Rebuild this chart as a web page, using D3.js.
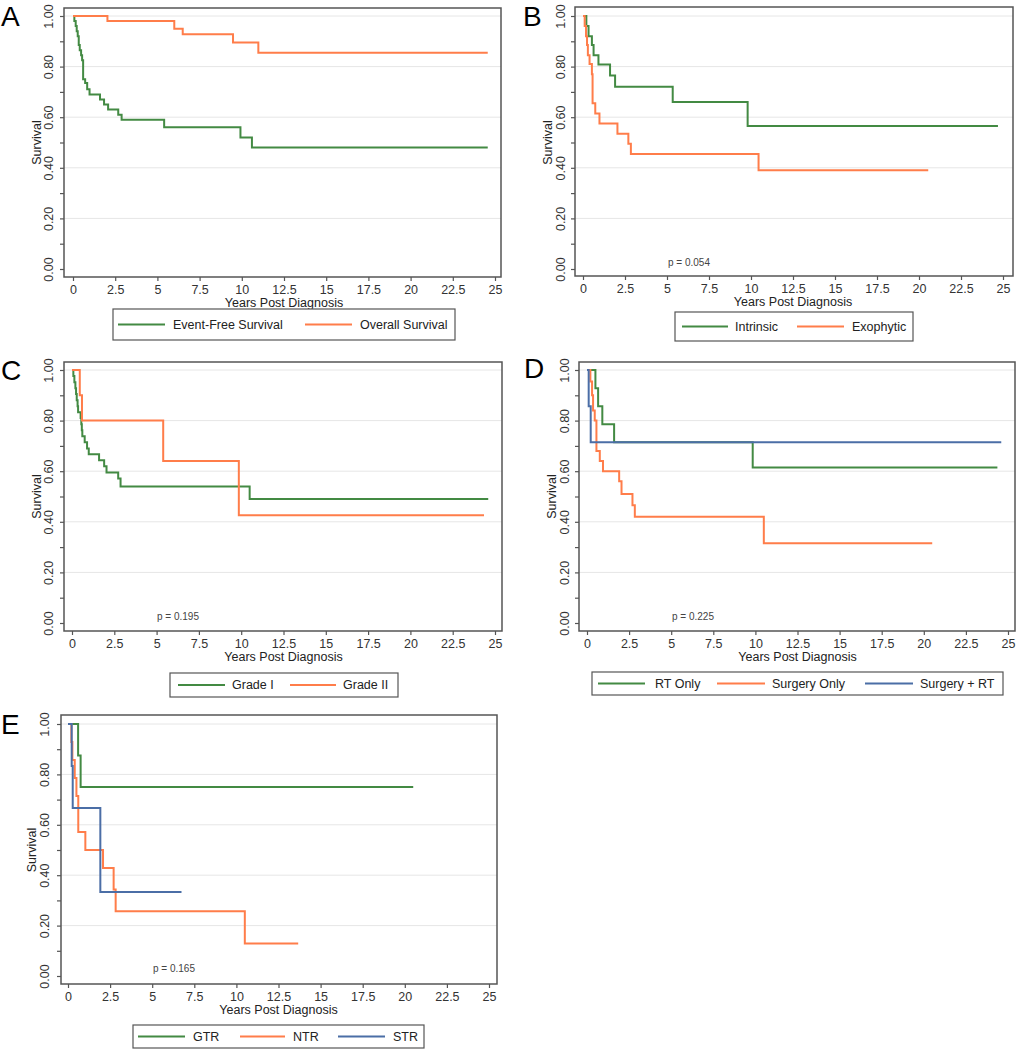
<!DOCTYPE html>
<html>
<head>
<meta charset="utf-8">
<script src="https://cdn.jsdelivr.net/npm/d3@7"></script>
<style>
  body { margin: 0; background: #fff; }
  svg { display: block; font-family: "Liberation Sans", Arial, sans-serif; }
</style>
</head>
<body>
<svg id="chart" width="1017" height="1050"></svg>
<script>
// tick values shared by every panel
var xTickValues = [0, 2.5, 5, 7.5, 10, 12.5, 15, 17.5, 20, 22.5, 25];
var yMajorTicks = [0, 0.2, 0.4, 0.6, 0.8, 1.0];
var yMinorTicks = [0.1, 0.3, 0.5, 0.7, 0.9];

// A: event-free vs overall survival
var aEfsTime = [0, 0.08, 0.16, 0.22, 0.28, 0.34, 0.40, 0.48, 0.54, 0.60, 0.72, 0.84, 0.98, 1.60, 1.84, 2.08, 2.68, 2.88, 5.40, 9.92, 10.60, 24.57];
var aEfsSurv = [1, 0.98, 0.96, 0.94, 0.92, 0.885, 0.865, 0.845, 0.825, 0.75, 0.735, 0.71, 0.69, 0.67, 0.65, 0.63, 0.61, 0.59, 0.56, 0.52, 0.48, 0.48];
var aOsTime = [0, 2.04, 6.0, 6.5, 9.48, 10.98, 24.57];
var aOsSurv = [1, 0.98, 0.95, 0.928, 0.895, 0.855, 0.855];

// B: intrinsic vs exophytic
var bIntTime = [0, 0.2, 0.33, 0.53, 0.63, 0.92, 1.61, 1.91, 5.34, 9.80, 24.7];
var bIntSurv = [1, 0.96, 0.92, 0.885, 0.845, 0.808, 0.765, 0.72, 0.66, 0.565, 0.565];
var bExoTime = [0, 0.10, 0.18, 0.24, 0.29, 0.39, 0.53, 0.57, 0.73, 0.98, 2.05, 2.7, 2.85, 10.45, 20.55];
var bExoSurv = [1, 0.96, 0.92, 0.885, 0.845, 0.81, 0.77, 0.655, 0.615, 0.575, 0.535, 0.495, 0.455, 0.39, 0.39];

// C: grade I vs grade II
var cG1Time = [0, 0.08, 0.14, 0.2, 0.24, 0.28, 0.33, 0.36, 0.51, 0.55, 0.58, 0.61, 0.75, 0.89, 0.99, 1.6, 1.9, 2.04, 2.73, 2.87, 10.5, 24.6];
var cG1Surv = [1, 0.976, 0.952, 0.928, 0.905, 0.88, 0.857, 0.833, 0.81, 0.786, 0.762, 0.738, 0.714, 0.69, 0.667, 0.643, 0.62, 0.595, 0.571, 0.54, 0.49, 0.49];
var cG2Time = [0, 0.46, 0.59, 5.39, 9.86, 24.35];
var cG2Surv = [1, 0.9, 0.8, 0.64, 0.426, 0.426];

// D: treatment
var dRtTime = [0, 0.5, 0.66, 0.91, 1.61, 9.84, 24.37];
var dRtSurv = [1, 0.928, 0.857, 0.786, 0.714, 0.615, 0.615];
var dSurgTime = [0, 0.2, 0.3, 0.36, 0.46, 0.56, 0.76, 0.95, 1.91, 2.05, 2.7, 2.84, 10.5, 20.5];
var dSurgSurv = [1, 0.955, 0.9, 0.84, 0.8, 0.68, 0.64, 0.6, 0.56, 0.51, 0.465, 0.42, 0.315, 0.315];
var dSurgRtTime = [0, 0.1, 0.22, 24.6];
var dSurgRtSurv = [1, 0.857, 0.714, 0.714];

// E: extent of resection
var eGtrTime = [0, 0.6, 0.75, 20.5];
var eGtrSurv = [1, 0.875, 0.75, 0.75];
var eNtrTime = [0, 0.2, 0.26, 0.4, 0.5, 0.61, 1.03, 2.08, 2.71, 2.83, 10.5, 13.67];
var eNtrSurv = [1, 0.929, 0.857, 0.786, 0.714, 0.571, 0.5, 0.429, 0.343, 0.257, 0.129, 0.129];
var eStrTime = [0, 0.22, 0.28, 1.92, 6.74];
var eStrSurv = [1, 0.833, 0.667, 0.333, 0.333];

var GREEN = "#438a43", ORANGE = "#ff7d4a", BLUE = "#4b6ea6";

function zip(t, s) { return t.map(function (d, i) { return [d, s[i]]; }); }

var panels = [
  { label: "A", lx: 1, ly: 26, box: [64, 8, 501, 277], xr: [73, 495], yr: [269, 16], tickLblX: 49, survX: 37,
    p: null, legend: { box: [113, 309, 455, 340], items: [[118, 165, 173], [305, 352, 360]] },
    series: [{ name: "Event-Free Survival", c: GREEN, d: zip(aEfsTime, aEfsSurv) },
             { name: "Overall Survival", c: ORANGE, d: zip(aOsTime, aOsSurv) }] },
  { label: "B", lx: 523, ly: 26, box: [575, 7, 1013, 276], xr: [583, 1003], yr: [269, 16], tickLblX: 561, survX: 548,
    p: { t: "p = 0.054", x: 668, y: 266 }, legend: { box: [675, 312, 913, 341], items: [[682, 728, 735], [797, 844, 852]] },
    series: [{ name: "Intrinsic", c: GREEN, d: zip(bIntTime, bIntSurv) },
             { name: "Exophytic", c: ORANGE, d: zip(bExoTime, bExoSurv) }] },
  { label: "C", lx: 1, ly: 380, box: [64, 362, 502, 631], xr: [72, 495], yr: [623, 370], tickLblX: 49, survX: 37,
    p: { t: "p = 0.195", x: 157, y: 620 }, legend: { box: [170, 673, 398, 697], items: [[178, 225, 232], [290, 336, 343]] },
    series: [{ name: "Grade I", c: GREEN, d: zip(cG1Time, cG1Surv) },
             { name: "Grade II", c: ORANGE, d: zip(cG2Time, cG2Surv) }] },
  { label: "D", lx: 524, ly: 378, box: [579, 362, 1015, 631], xr: [587, 1008], yr: [623, 370], tickLblX: 565, survX: 552,
    p: { t: "p = 0.225", x: 672, y: 620 }, legend: { box: [592, 672, 1003, 695], items: [[598, 645, 655], [717, 765, 772], [865, 913, 920]] },
    series: [{ name: "RT Only", c: GREEN, d: zip(dRtTime, dRtSurv) },
             { name: "Surgery Only", c: ORANGE, d: zip(dSurgTime, dSurgSurv) },
             { name: "Surgery + RT", c: BLUE, d: zip(dSurgRtTime, dSurgRtSurv) }] },
  { label: "E", lx: 1, ly: 734, box: [61, 715, 497, 984], xr: [68, 489], yr: [976, 724], tickLblX: 45, survX: 32,
    p: { t: "p = 0.165", x: 153, y: 972 }, legend: { box: [133, 1025, 424, 1048], items: [[138, 185, 193], [240, 285, 293], [338, 385, 393]] },
    series: [{ name: "GTR", c: GREEN, d: zip(eGtrTime, eGtrSurv) },
             { name: "NTR", c: ORANGE, d: zip(eNtrTime, eNtrSurv) },
             { name: "STR", c: BLUE, d: zip(eStrTime, eStrSurv) }] }
];

var svg = d3.select("#chart");
svg.append("rect").attr("width", 1017).attr("height", 1050).attr("fill", "#fff");

panels.forEach(function (p) {
  var g = svg.append("g");
  var x = d3.scaleLinear().domain([0, 25]).range(p.xr);
  var y = d3.scaleLinear().domain([0, 1]).range(p.yr);
  var L = p.box[0], T = p.box[1], R = p.box[2], B = p.box[3];

  // grid
  g.selectAll(".grid").data(yMajorTicks.filter(function (v) { return v > 0; })).enter()
    .append("line")
    .attr("x1", L).attr("x2", R)
    .attr("y1", function (d) { return y(d); }).attr("y2", function (d) { return y(d); })
    .attr("stroke", "#e6e6e6").attr("stroke-width", 1);

  // curves
  var line = d3.line().x(function (d) { return x(d[0]); }).y(function (d) { return y(d[1]); }).curve(d3.curveStepAfter);
  p.series.forEach(function (s) {
    g.append("path").datum(s.d).attr("d", line)
      .attr("fill", "none").attr("stroke", s.c).attr("stroke-width", 2);
  });

  // frame
  g.append("rect").attr("x", L).attr("y", T).attr("width", R - L).attr("height", B - T)
    .attr("fill", "none").attr("stroke", "#555").attr("stroke-width", 1.5);

  // x axis
  var xa = g.append("g").attr("transform", "translate(0," + B + ")")
    .call(d3.axisBottom(x).tickValues(xTickValues).tickSize(4).tickSizeOuter(0).tickPadding(4)
      .tickFormat(function (d) { return String(d); }));
  xa.select(".domain").remove();
  xa.selectAll("line").attr("stroke", "#555").attr("stroke-width", 1.2);
  xa.selectAll("text").attr("font-size", 12.5).attr("fill", "#333").attr("font-family", "Liberation Sans, Arial, sans-serif");

  // y axis, major + minor
  var ya = g.append("g").attr("transform", "translate(" + L + ",0)")
    .call(d3.axisLeft(y).tickValues(yMajorTicks).tickSize(4).tickSizeOuter(0).tickFormat(d3.format(".2f")));
  ya.select(".domain").remove();
  ya.selectAll("line").attr("stroke", "#555").attr("stroke-width", 1.2);
  ya.selectAll("text")
    .attr("x", 0).attr("dy", "0.35em").attr("text-anchor", "middle")
    .attr("transform", "translate(" + (p.tickLblX - L) + ",0) rotate(-90)")
    .attr("font-size", 12.5).attr("fill", "#333").attr("font-family", "Liberation Sans, Arial, sans-serif");
  var ym = g.append("g").attr("transform", "translate(" + L + ",0)")
    .call(d3.axisLeft(y).tickValues(yMinorTicks).tickSize(4).tickSizeOuter(0).tickFormat(""));
  ym.select(".domain").remove();
  ym.selectAll("line").attr("stroke", "#555").attr("stroke-width", 1.2);

  // axis titles
  g.append("text").attr("x", (p.xr[0] + p.xr[1]) / 2).attr("y", B + 30)
    .attr("text-anchor", "middle").attr("font-size", 12.5).attr("fill", "#222").text("Years Post Diagnosis");
  g.append("text").attr("transform", "translate(" + p.survX + "," + (p.yr[0] + p.yr[1]) / 2 + ") rotate(-90)")
    .attr("dy", "0.35em").attr("text-anchor", "middle").attr("font-size", 12.5).attr("fill", "#222").text("Survival");

  // panel letter
  g.append("text").attr("x", p.lx).attr("y", p.ly).attr("font-size", 28).attr("fill", "#000").text(p.label);

  if (p.p) {
    g.append("text").attr("x", p.p.x).attr("y", p.p.y).attr("font-size", 10).attr("fill", "#444").text(p.p.t);
  }

  // legend
  var lb = p.legend.box, cy = (lb[1] + lb[3]) / 2;
  g.append("rect").attr("x", lb[0]).attr("y", lb[1]).attr("width", lb[2] - lb[0]).attr("height", lb[3] - lb[1])
    .attr("fill", "#fff").attr("stroke", "#555").attr("stroke-width", 1.2);
  p.legend.items.forEach(function (it, i) {
    g.append("line").attr("x1", it[0]).attr("x2", it[1]).attr("y1", cy).attr("y2", cy)
      .attr("stroke", p.series[i].c).attr("stroke-width", 2);
    g.append("text").attr("x", it[2]).attr("y", cy).attr("dy", "0.35em")
      .attr("font-size", 12.5).attr("fill", "#222").text(p.series[i].name);
  });
});
</script>
</body>
</html>
